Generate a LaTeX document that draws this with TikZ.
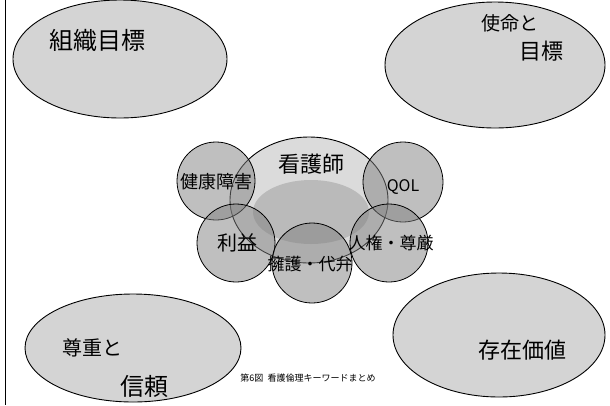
\documentclass[tikz,border=0pt]{standalone}
\usepackage{fontspec}
\setmainfont{Noto Sans CJK JP}
\begin{document}
\begin{tikzpicture}[x=1pt,y=-1pt,
  outer/.style={draw=black, line width=0.9pt, fill=black!17},
  ring/.style={draw=black, line width=0.8pt, fill=black!50, fill opacity=0.5},
  big/.style={font=\fontsize{22}{24}\selectfont, inner sep=0pt},
  mid/.style={font=\fontsize{18}{20}\selectfont, inner sep=0pt}]
\useasboundingbox (0,0) rectangle (610,405);
\draw[line width=0.9pt] (5,0) -- (5,405);
% outer ellipses
\draw[outer] (120,59) ellipse [x radius=107, y radius=59];
\draw[outer] (495,65) ellipse [x radius=110, y radius=63];
\draw[outer] (133,348) ellipse [x radius=108, y radius=54];
\draw[outer] (499,335) ellipse [x radius=106, y radius=62];
\node[big, font=\fontsize{24}{26}\selectfont] (t1) at (97,40) {組織目標};
\node[big, font=\fontsize{19}{21}\selectfont] (t2a) at (510,23) {使命と};
\node[big] (t2b) at (541,51) {目標};
\node[big, font=\fontsize{20}{22}\selectfont] (t3a) at (92,348) {尊重と};
\node[big, font=\fontsize{24}{26}\selectfont] (t3b) at (144,386) {信頼};
\node[big] (t4) at (522,350) {存在価値};
% centre
\draw[line width=0.9pt, fill=black!14] (309,200) ellipse [x radius=79, y radius=63];
\fill[black!27] (311,212) ellipse [x radius=58, y radius=32];
\draw[ring] (216,181) circle [radius=39];
\draw[ring] (403,182) circle [radius=40];
\draw[ring] (236,243) circle [radius=39];
\draw[ring] (389,243) circle [radius=39];
\draw[ring] (312,263) circle [radius=40];
\node[big] (n0) at (311,164) {看護師};
\node[mid] (n1) at (216,182) {健康障害};
\node[font=\fontsize{16}{18}\selectfont, inner sep=0pt] (n2) at (403,187) {QOL};
\node[big, font=\fontsize{20}{22}\selectfont] (n3) at (237,243) {利益};
\node[mid, font=\fontsize{17}{19}\selectfont] (n4) at (391,243) {人権・尊厳};
\node[mid, font=\fontsize{17}{19}\selectfont] (n5) at (310,264) {擁護・代弁};
\node[font=\fontsize{9}{10}\selectfont, inner sep=0pt] (cap) at (308,378) {第6図\ \ 看護倫理キーワードまとめ};
\end{tikzpicture}
\end{document}
